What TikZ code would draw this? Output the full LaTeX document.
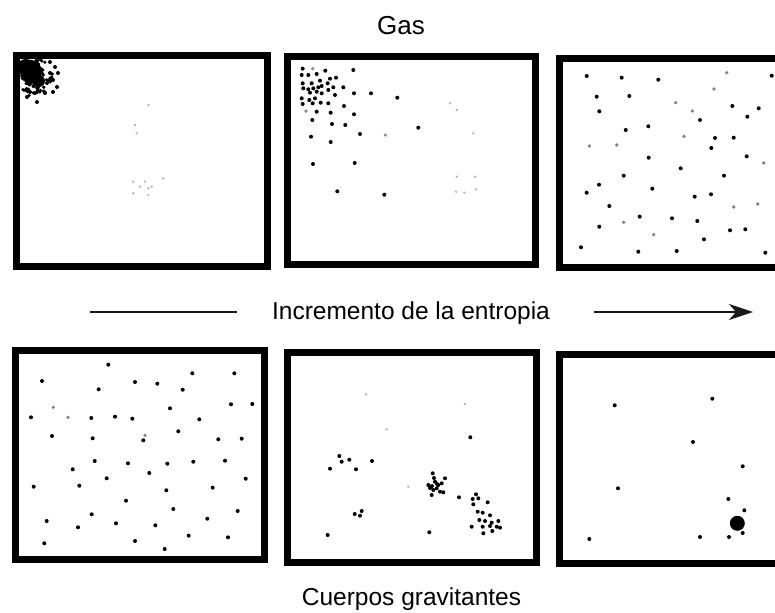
\documentclass[tikz,border=0pt]{standalone}
\usepackage{fontspec}
\setmainfont{Liberation Sans}
\usetikzlibrary{arrows.meta}
\tikzset{
  panel/.style={draw=black, line width=7pt, line join=miter},
  lbl/.style={font=\fontsize{24.5}{28}\selectfont, inner sep=0pt, anchor=base},
  rule/.style={line width=2.2pt, draw=black!90},
  pt/.style={fill=black},
  faint/.style={fill=black!30},
}
\begin{document}
\begin{tikzpicture}[x=1pt,y=-1pt]
\useasboundingbox (0,0) rectangle (775,612);
\clip (0,0) rectangle (775,612);
\fill[white] (0,0) rectangle (775,612);

% panels
\draw[panel] (16.5,56) rectangle (267,266);
\draw[panel] (287.5,56.5) rectangle (535.5,264.5);
\draw[panel] (559,59) rectangle (795,267.5);
\draw[panel] (15.5,350) rectangle (264,559);
\draw[panel] (287.5,352.5) rectangle (536,562.5);
\draw[panel] (559.5,354) rectangle (795,563.5);

% labels
\node[lbl, font=\fontsize{26}{30}\selectfont] (gas) at (401,35) {Gas};
\node[lbl] (inc) at (411,319) {Incremento de la entropia};
\node[lbl] (cue) at (411.5,605) {Cuerpos gravitantes};

% arrows
\coordinate (la) at (90,312);
\coordinate (lb) at (237,312);
\coordinate (ra) at (594,312);
\coordinate (rb) at (753,312);
\draw[rule] (la) -- (lb);
\draw[rule, -{Stealth[length=24pt,width=16pt,inset=7pt]}] (ra) -- (rb);

% ---- panel 1: gas compressed in the corner
\fill[black] (31,72) ellipse (11pt and 12pt);
\fill[black] (26,66) ellipse (8pt and 7pt);
\fill[black] (39,81) ellipse (6pt and 6pt);
\pgfmathsetseed{11}
\foreach \i in {1,...,90}{
  \pgfmathsetmacro\ang{rnd*360}
  \pgfmathsetmacro\rad{sqrt(rnd)*20}
  \fill[black] ({33+\rad*cos(\ang)},{77+0.95*\rad*sin(\ang)}) circle (1.8pt);
}
\foreach \p in {(55,67),(58,73),(53,80),(57,87),(53,92),(45,93),(37,102),(27,97),(30,92),(35,93),(50,73),(47,83),(50,62)}
  \fill[pt] \p circle (2pt);
\foreach \p in {(148.3,105),(135,125),(136.7,133.3),(133.3,181.7),(140,186.7),(145,181.7),(148.3,188.3),(163.3,178.3),(133.3,193.3),(148.3,195),(151.7,186.7)}
  \fill[faint] \p circle (1.3pt);

% ---- panel 2: gas spreading
\foreach \p in {(302.7,68.7),(325.3,70.7),(353.3,70),(301.7,75),(308.3,75),(316.7,74),(330,78.7),(336,77.7),(302.7,83.3),(311.7,83.3),(320,80.7),(327.7,83.3),(303.3,88.3),(308.3,89.3),(313.3,88.3),(318.3,87.3),(321.7,86),(328.3,90),(333.3,87.3),(343.3,87.3),(310,92.7),(316.7,91.7),(321.7,93.3),(335,95),(354,93.3),(371,93.3),(397.3,97.7),(301.7,98.3),(309.3,100),(315,98.3),(302.7,104),(312.7,103.3),(320.7,102.7),(328.3,103.3),(344,106),(316.7,111.7),(330.7,112.7),(354,114.3),(312.3,120),(332,124),(345.3,125),(418.3,127.7),(311,136.7),(330.7,142),(360,134),(313,164),(354.7,163),(337.3,191.3),(384.3,194.7)}
  \fill[pt] \p circle (2pt);
\foreach \p in {(312.7,68.7),(306,111),(385.3,135)}
  \fill[black!45] \p circle (1.8pt);
\foreach \p in {(450,103.3),(456.7,110),(473.3,133.3),(456.7,176.7),(475,176.7),(456,191.7),(464.3,192.7),(476,189.3)}
  \fill[faint] \p circle (1.3pt);

% ---- panel 3: gas uniform
\foreach \p in {(586.7,76),(621.7,77.7),(658.3,79.7),(771.7,75.7),(596.7,96.7),(629.3,96),(599.3,111.3),(700,120),(732.3,106),(758.7,108.3),(747.3,116.7),(625.7,130),(648.3,126.3),(715,138),(733.7,137.7),(711.3,148),(648.7,157.7),(746.7,156.3),(680.7,168.3),(623.7,175.7),(724,175.7),(599,184.7),(586.7,192.7),(652.3,188.7),(694.7,196.7),(711,194.3),(609.3,206),(639.7,216.7),(672,218.3),(697.3,221),(599.3,226.7),(730,230.3),(745.3,229.3),(704,239.3),(581,247.3),(638.3,251.7),(676.7,251),(765.3,252.7)}
  \fill[pt] \p circle (2pt);
\foreach \p in {(726.7,72.7),(714,89),(675.7,102.7),(692.3,111),(684,136.3),(589.3,146),(616.7,145),(763.7,163),(733.7,207),(757.7,204),(623.7,222.3),(653.7,234.7)}
  \fill[black!50] \p circle (1.8pt);

% ---- panel 4: gravitating bodies uniform
\foreach \p in {(108.3,364.7),(42,381),(192.3,373.3),(234.3,373.3),(135,382),(157.3,383.7),(98.7,389.3),(182.7,389.7),(170,408.3),(231,404.3),(252.3,404),(31,417.3),(91.3,418),(115,416.7),(132.3,418.7),(199.3,419.3),(52,436),(92.7,438.3),(143.3,440.3),(178.3,431.3),(218.3,439.3),(241.7,438.7),(94.7,461),(128,463.3),(167.3,463.7),(193.3,461.7),(225,460.7),(72.7,469.3),(149.3,473),(106.7,478.3),(245.7,478.7),(33.7,486.7),(79.3,485.7),(166.3,490.3),(212.7,487.7),(126,500.7),(173.3,509),(237.7,511),(91.7,514.3),(207.3,518.7),(46.7,521),(116,523.3),(155.3,525.3),(78,527.3),(188.7,535.7),(228,537.3),(135,541),(44.3,543.3),(164.7,549)}
  \fill[pt] \p circle (2pt);
\foreach \p in {(53.3,407.3),(68,417.3),(145,435.3)}
  \fill[black!50] \p circle (1.8pt);

% ---- panel 5: clumping
\foreach \p in {(470.3,437.3),(339.3,456),(341.7,461.7),(349.3,459.7),(372,461),(330,468.7),(356,469.3),(354.7,514),(360,515.7),(361.7,511),(327.7,535),(459,497.3),(429.3,532.3)}
  \fill[pt] \p circle (2pt);
\foreach \p in {(366,394.3),(386.7,429.3),(465,404),(408.3,486.7)}
  \fill[faint] \p circle (1.3pt);
\foreach \p in {(432.7,473.3),(445,478.3),(428.3,485),(435,481.7),(438.3,485),(433.3,490),(440,491.7),(431.7,495),(443.3,492.3),(436.7,488.3),(430,488),(441.7,483.3),(434,478),(437,484),(432,486)}
  \fill[pt] \p circle (2pt);
\foreach \p in {(476,494.3),(472.7,499),(478.3,498.3),(487.7,502.3),(473.3,504.3),(477.7,511.7),(482.7,512.7),(490,515.3),(479.3,520),(485,521),(491.7,522.7),(498.3,521),(471.7,526.7),(482.7,526.7),(490,526),(496.7,526.7),(500,527.7),(483.3,533.3),(492.3,531)}
  \fill[pt] \p circle (2pt);

% ---- panel 6: black hole
\foreach \p in {(614.7,405.3),(712.3,398.7),(693,442),(742.7,466.3),(618,488.3),(728.3,499),(744.3,510.3),(742.7,533),(589.3,539),(700,537),(729,537)}
  \fill[pt] \p circle (2pt);
\fill[black] (737.3,523.3) circle (7.5pt);
\end{tikzpicture}
\end{document}
